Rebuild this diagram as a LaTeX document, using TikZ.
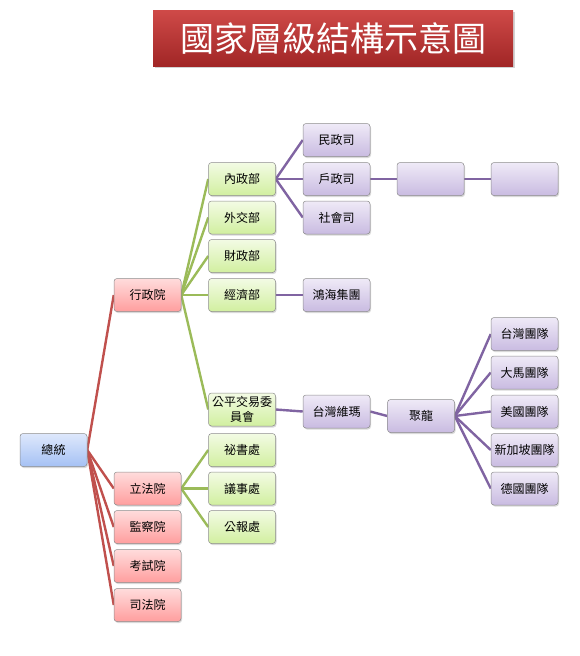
\documentclass[tikz,border=0pt]{standalone}
\usepackage{fontspec}
\setmainfont{Noto Sans CJK TC}
\usepackage{xcolor}
\usetikzlibrary{positioning,shadows,backgrounds}
\definecolor{linered}{HTML}{C0504D}
\definecolor{linegreen}{HTML}{9BBB59}
\definecolor{linepurple}{HTML}{8064A2}
\definecolor{bluetop}{HTML}{DEE8FC}
\definecolor{bluebot}{HTML}{A5C1F4}
\definecolor{redtop}{HTML}{FFDCDC}
\definecolor{redbot}{HTML}{FF9E9E}
\definecolor{greentop}{HTML}{F3FBE4}
\definecolor{greenbot}{HTML}{D1EFA0}
\definecolor{purpletop}{HTML}{EFEAF7}
\definecolor{purplebot}{HTML}{C9BBE1}
\definecolor{titletop}{HTML}{CF4A48}
\definecolor{titlebot}{HTML}{A12626}

\begin{document}
\begin{tikzpicture}[x=1pt,y=-1pt,every node/.style={font=\fontsize{12}{14}\selectfont}]
   \tikzstyle{box}=[rectangle,rounded corners=3pt,minimum width=67pt,minimum height=33pt,
     inner sep=1pt,draw=black!45,line width=0.5pt,align=center,
     drop shadow={shadow xshift=1pt,shadow yshift=-1.5pt,opacity=.3}];
   \tikzstyle{nb}=[box,top color=bluetop,bottom color=bluebot];
   \tikzstyle{nr}=[box,top color=redtop,bottom color=redbot];
   \tikzstyle{ng}=[box,top color=greentop,bottom color=greenbot];
   \tikzstyle{np}=[box,top color=purpletop,bottom color=purplebot];
   \tikzstyle{lr}=[draw=linered,line width=2.4pt];
   \tikzstyle{lg}=[draw=linegreen,line width=2.4pt];
   \tikzstyle{lp}=[draw=linepurple,line width=2.4pt];
   \useasboundingbox (0,0) rectangle (580,656);
   % title
   \node[rectangle,minimum width=360pt,minimum height=56pt,top color=titletop,
     bottom color=titlebot,text=white,font=\fontsize{34}{36}\selectfont,
     drop shadow={shadow xshift=2pt,shadow yshift=-2pt,opacity=.35}] (title) at (333,38) {國家層級結構示意圖};
   % level 1
   \node[nb] (zt) at (53.5,450) {總統};
   % level 2
   \node[nr] (xz) at (147.5,295) {行政院};
   \node[nr] (lf) at (147.5,488.5) {立法院};
   \node[nr] (jc) at (147.5,527) {監察院};
   \node[nr] (ks) at (147.5,566) {考試院};
   \node[nr] (sf) at (147.5,605) {司法院};
   % level 3
   \node[ng] (nz) at (242,179) {內政部};
   \node[ng] (wj) at (242,217.5) {外交部};
   \node[ng] (cz) at (242,256) {財政部};
   \node[ng] (jj) at (242,295) {經濟部};
   \node[ng] (gp) at (242,409.5) {公平交易委\\[1pt]員會};
   \node[ng] (ms) at (242,450) {祕書處};
   \node[ng] (ys) at (242,488.5) {議事處};
   \node[ng] (gb) at (242,527) {公報處};
   % level 4
   \node[np] (mz) at (336.5,140) {民政司};
   \node[np] (hz) at (336.5,179) {戶政司};
   \node[np] (sh) at (336.5,217.5) {社會司};
   \node[np] (hh) at (336.5,295) {鴻海集團};
   \node[np] (tw) at (336.5,411.5) {台灣維瑪};
   \node[np] (e1) at (430.5,179) {};
   \node[np] (e2) at (524.5,179) {};
   \node[np] (jl) at (421,416) {聚龍};
   \node[np] (t1) at (524.5,334) {台灣團隊};
   \node[np] (t2) at (524.5,372.5) {大馬團隊};
   \node[np] (t3) at (524.5,411.5) {美國團隊};
   \node[np] (t4) at (524.5,450) {新加坡團隊};
   \node[np] (t5) at (524.5,488.5) {德國團隊};
   \begin{scope}[on background layer]
     \foreach \c in {xz,lf,jc,ks,sf}
       \draw[lr] (zt.east) -- (\c.west);
     \foreach \c in {nz,wj,cz,jj,gp}
       \draw[lg] (xz.east) -- (\c.west);
     \foreach \c in {ms,ys,gb}
       \draw[lg] (lf.east) -- (\c.west);
     \foreach \c in {mz,hz,sh}
       \draw[lp] (nz.east) -- (\c.west);
     \draw[lp] (hz) -- (e1);
     \draw[lp] (e1) -- (e2);
     \draw[lp] (jj) -- (hh);
     \draw[lp] (gp.east) -- (tw.west);
     \draw[lp] (tw.east) -- (jl.west);
     \foreach \c in {t1,t2,t3,t4,t5}
       \draw[lp] (jl.east) -- (\c.west);
   \end{scope}
  \end{tikzpicture}
\end{document}
